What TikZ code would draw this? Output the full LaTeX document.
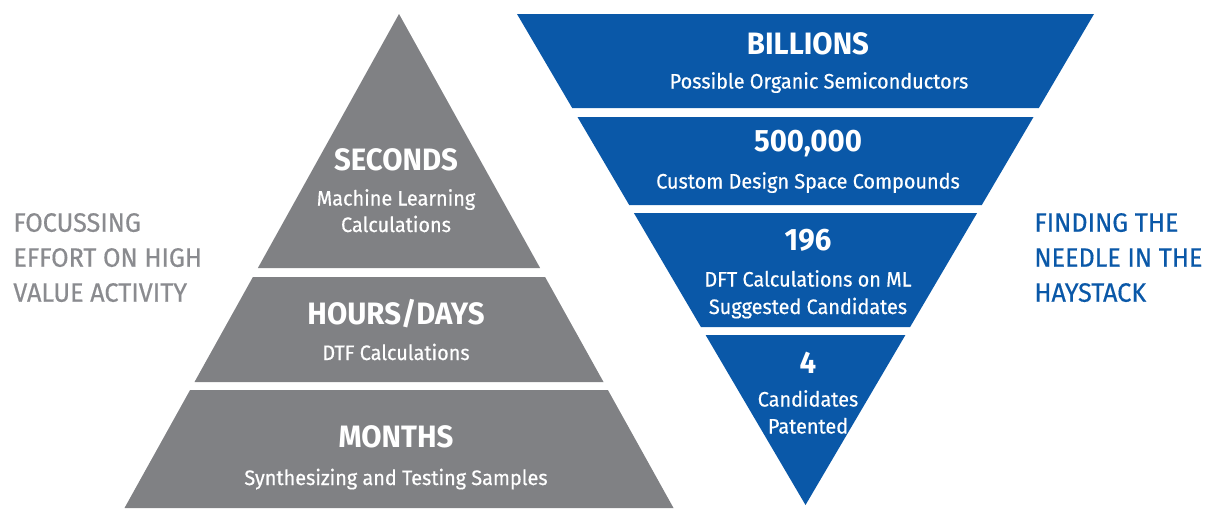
\documentclass[tikz,border=0pt]{standalone}
\usepackage{fontspec}
\setmainfont{Fira Sans}[FakeStretch=0.95]
\newfontfamily\medfont{Fira Sans}[FakeStretch=0.95, FakeBold=0.5]

\definecolor{pyrgray}{HTML}{808184}
\definecolor{sidegray}{HTML}{8A8B8F}
\definecolor{funblue}{HTML}{0A58A8}

\begin{document}
\begin{tikzpicture}[x=0.02cm, y=-0.02cm,
  title/.style={text=white, font=\bfseries\fontsize{17.6}{20}\selectfont, anchor=base, inner sep=0pt},
  sub/.style={text=white, font=\medfont\fontsize{11.9}{14}\selectfont, anchor=base, inner sep=0pt},
  side/.style={font=\medfont\fontsize{15.1}{18}\selectfont, anchor=base west, inner sep=0pt},
  ]

\useasboundingbox[fill=white] (0,0) rectangle (1209,508);

% effort pyramid
\fill [pyrgray] (399,14) -- (540.1,268) -- (257.9,268) -- cycle;
\fill [pyrgray] (252.9,277) -- (545.1,277) -- (603.5,382) -- (194.5,382) -- cycle;
\fill [pyrgray] (190.1,390) -- (607.9,390) -- (673.5,508) -- (124.5,508) -- cycle;

\node (secT) [title] at (396,170.5) {SECONDS};
\node (secA) [sub] at (396,205.5) {Machine Learning};
\node (secB) [sub] at (396,232) {Calculations};

\node (hrsT) [title] at (396,324) {HOURS/DAYS};
\node (hrsA) [sub] at (396,360) {DTF Calculations};

\node (monT) [title] at (396,447) {MONTHS};
\node (monA) [sub] at (396,485) {Synthesizing and Testing Samples};

% needle funnel
\fill [funblue] (517,14) -- (1094,14) -- (1038.8,108) -- (572.2,108) -- cycle;
\fill [funblue] (577.5,117) -- (1033.5,117) -- (981.8,205) -- (629.2,205) -- cycle;
\fill [funblue] (633.9,213) -- (977.1,213) -- (910.1,327) -- (700.9,327) -- cycle;
\fill [funblue] (705.6,335) -- (905.4,335) -- (805.5,505) -- cycle;

\node (bilT) [title] at (808,54.5) {BILLIONS};
\node (bilA) [sub] at (819,88.5) {Possible Organic Semiconductors};

\node (cusT) [title] at (808,151.5) {500,000};
\node (cusA) [sub] at (808,188.5) {Custom Design Space Compounds};

\node (dftT) [title] at (808,250.5) {196};
\node (dftA) [sub] at (808,286.5) {DFT Calculations on ML};
\node (dftB) [sub] at (808,314) {Suggested Candidates};

\node (patT) [title] at (808,373.5) {4};
\node (patA) [sub] at (808,406.5) {Candidates};
\node (patB) [sub] at (808,433.5) {Patented};

% side captions
\node (focA) [side, text=sidegray] at (13,231.7) {FOCUSSING};
\node (focB) [side, text=sidegray] at (13,266.7) {EFFORT ON HIGH};
\node (focC) [side, text=sidegray] at (13,301.7) {VALUE ACTIVITY};

\node (finA) [side, text=funblue] at (1034,231.7) {FINDING THE};
\node (finB) [side, text=funblue] at (1034,266.7) {NEEDLE IN THE};
\node (finC) [side, text=funblue] at (1034,301.7) {HAYSTACK};

\end{tikzpicture}
\end{document}
